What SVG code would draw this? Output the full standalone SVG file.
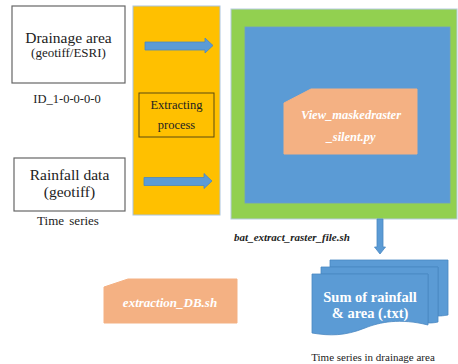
<svg xmlns="http://www.w3.org/2000/svg" width="458" height="364" viewBox="0 0 458 364" font-family="'Liberation Serif', 'Times New Roman', serif">
<style>
text{font-family:'Liberation Serif','Times New Roman',serif;text-anchor:middle;fill:#222}
.box{fill:#fff;stroke:#666;stroke-width:1.2}
.blue{fill:#5B9BD5;stroke:#4A88C2;stroke-width:0.8}
.doc{fill:#F4B183;stroke:#F4B183}
.wb{fill:#fff;font-weight:bold}
.wbi{fill:#fff;font-weight:bold;font-style:italic}
</style>
<rect width="458" height="364" fill="#fff"/>
<g id="drainage">
<rect class="box" x="12" y="6" width="113" height="77"/>
<text x="68.5" y="43" font-size="15.5">Drainage area</text>
<text x="68.5" y="57" font-size="13">(geotiff/ESRI)</text>
<text x="67" y="103" font-size="12.5">ID_1-0-0-0-0</text>
</g>
<g id="rainfall">
<rect class="box" x="14" y="158" width="111" height="53"/>
<text x="69.5" y="180" font-size="15.5">Rainfall data</text>
<text x="69.5" y="197" font-size="15.5">(geotiff)</text>
<text x="68" y="225" font-size="13" word-spacing="2">Time series</text>
</g>
<g id="extracting">
<rect x="133" y="6" width="87" height="209" fill="#FFC000" stroke="#A9C4DE" stroke-width="1"/>
<rect x="139" y="93" width="75" height="44" fill="none" stroke="#5a4a10" stroke-width="1"/>
<text x="176.5" y="109" font-size="12.5">Extracting</text>
<text x="176.5" y="129" font-size="12.5">process</text>
</g>
<g id="batbox">
<rect x="231" y="9" width="226" height="210" fill="#92D050" stroke="#B5CBE0" stroke-width="1"/>
<rect x="245" y="27" width="205" height="176" fill="#5B9BD5" stroke="#6E9EC8" stroke-width="0.8"/>
<text x="292" y="241" font-size="11" font-weight="bold" font-style="italic">bat_extract_raster_file.sh</text>
</g>
<g id="view">
<path class="doc" d="M284 103 L311 89 L417 89 L417 154 L284 154 Z"/>
<text class="wbi" x="351" y="119" font-size="12.5">View_maskedraster</text>
<text class="wbi" x="351" y="141" font-size="12.5">_silent.py</text>
</g>
<g id="extraction">
<path class="doc" d="M104 287 L128 279 L237 279 L237 323 L104 323 Z"/>
<text class="wbi" x="170" y="307" font-size="13">extraction_DB.sh</text>
</g>
<g id="sum">
<path class="blue" d="M330 260 L448 260 L448 315 C442 316 440 316 438 316 L438 267 L330 267 Z"/>
<path class="blue" d="M321 267 L438 267 L438 322 C434 323 430 323 428 323 L428 274 L321 274 Z"/>
<path class="blue" d="M312 274 L428 274 L428 325 C400 318 380 322 365 328 C345 336 330 336 312 333 Z"/>
<text class="wb" x="370" y="302" font-size="14.5">Sum of rainfall</text>
<text class="wb" x="370" y="318" font-size="14.5">&amp; area (.txt)</text>
<text x="373" y="361" font-size="11">Time series in drainage area</text>
</g>
<g id="connectors">
<path class="blue" d="M145 42 L205 42 L205 38 L213 45.5 L205 53 L205 50 L145 50 Z"/>
<path class="blue" d="M144 177.5 L204 177.5 L204 173.5 L212 181 L204 188.5 L204 185.5 L144 185.5 Z"/>
<path class="blue" d="M377 219 L383 219 L383 247 L385.5 247 L380 254 L374.5 247 L377 247 Z"/>
</g>
</svg>
